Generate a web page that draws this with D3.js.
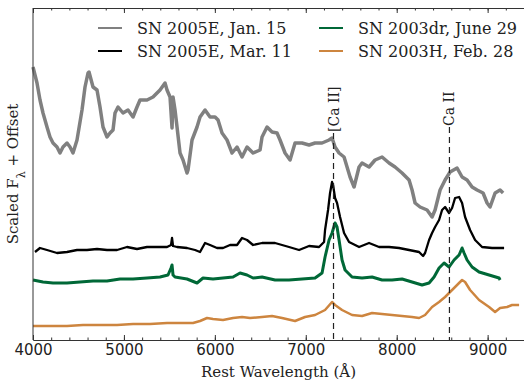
<!DOCTYPE html>
<html>
<head>
<meta charset="utf-8">
<script src="https://cdn.jsdelivr.net/npm/d3@7"></script>
<style>
  body { margin: 0; background: #fff; }
  .axis path, .axis line { stroke: #333; }
  .axis text { font-family: "DejaVu Sans", sans-serif; font-size: 15px; fill: #222; }
  .label, .legend text, .line-id { font-family: "DejaVu Serif", serif; fill: #222; }
</style>
</head>
<body>
<svg class="spectra" width="524" height="381"></svg>
<script>
// [wavelength (A), scaled flux]; offsets added at draw time
const jan15 = [
  [4000, 1.53], [4044, 1.37], [4077, 1.20], [4110, 1.07], [4154, 0.93], [4187, 0.83],
  [4220, 0.77], [4264, 0.73], [4297, 0.67], [4330, 0.73], [4374, 0.77], [4407, 0.73],
  [4440, 0.67], [4484, 0.80], [4539, 1.10], [4572, 1.33], [4605, 1.47], [4616, 1.48],
  [4660, 1.33], [4704, 1.30], [4737, 1.13], [4770, 0.93], [4814, 0.83], [4847, 0.87],
  [4880, 0.90], [4902, 1.07], [4935, 1.13], [4990, 1.07], [5045, 1.10], [5100, 1.03],
  [5144, 1.13], [5177, 1.20], [5254, 1.20], [5320, 1.23], [5397, 1.30], [5452, 1.37],
  [5474, 1.30], [5507, 1.23], [5529, 0.92], [5540, 1.23], [5562, 1.10], [5584, 0.93],
  [5617, 0.67], [5650, 0.60], [5694, 0.47], [5705, 0.50], [5749, 0.80], [5804, 0.93],
  [5837, 1.03], [5892, 1.10], [5947, 1.03], [6002, 1.03], [6035, 1.00], [6079, 0.87],
  [6134, 0.80], [6189, 0.67], [6244, 0.73], [6299, 0.63], [6354, 0.73], [6420, 0.67],
  [6497, 0.70], [6519, 0.83], [6574, 0.93], [6629, 0.88], [6684, 0.87], [6717, 0.80],
  [6772, 0.67], [6827, 0.60], [6882, 0.77], [6959, 0.77], [7036, 0.75], [7102, 0.77],
  [7179, 0.77], [7256, 0.80], [7289, 0.82], [7322, 0.73], [7366, 0.67], [7421, 0.63],
  [7454, 0.53], [7487, 0.43], [7531, 0.33], [7586, 0.53], [7619, 0.57], [7696, 0.53],
  [7762, 0.60], [7839, 0.63], [7916, 0.57], [7982, 0.53], [8059, 0.47], [8136, 0.40],
  [8169, 0.30], [8202, 0.17], [8257, 0.13], [8334, 0.10], [8389, 0.03], [8422, 0.10],
  [8477, 0.30], [8532, 0.40], [8587, 0.48], [8664, 0.52], [8719, 0.43], [8774, 0.40],
  [8829, 0.33], [8884, 0.30], [8950, 0.27], [8994, 0.17], [9027, 0.13], [9082, 0.27],
  [9137, 0.30], [9170, 0.27]
];

const mar11 = [
  [4022, 0.08], [4077, 0.12], [4154, 0.10], [4264, 0.07], [4374, 0.08], [4484, 0.10],
  [4594, 0.10], [4704, 0.11], [4814, 0.10], [4924, 0.10], [5034, 0.13], [5144, 0.11],
  [5254, 0.13], [5364, 0.13], [5474, 0.13], [5518, 0.15], [5529, 0.22], [5540, 0.14],
  [5584, 0.13], [5694, 0.12], [5782, 0.10], [5837, 0.08], [5892, 0.17], [5947, 0.15],
  [6024, 0.12], [6090, 0.12], [6167, 0.15], [6244, 0.15], [6299, 0.22], [6354, 0.20],
  [6420, 0.15], [6519, 0.17], [6662, 0.17], [6816, 0.13], [6926, 0.10], [7036, 0.14],
  [7146, 0.13], [7201, 0.18], [7212, 0.30], [7245, 0.50], [7267, 0.67], [7289, 0.78],
  [7300, 0.75], [7322, 0.62], [7344, 0.57], [7377, 0.43], [7421, 0.27], [7476, 0.18],
  [7586, 0.13], [7696, 0.17], [7806, 0.13], [7916, 0.13], [8026, 0.12], [8136, 0.10],
  [8246, 0.08], [8290, 0.04], [8312, 0.07], [8356, 0.20], [8389, 0.27], [8422, 0.33],
  [8466, 0.40], [8499, 0.50], [8532, 0.53], [8576, 0.47], [8609, 0.52], [8642, 0.62],
  [8686, 0.63], [8719, 0.57], [8752, 0.43], [8807, 0.30], [8862, 0.20], [8939, 0.13],
  [9049, 0.12], [9159, 0.12], [9181, 0.12]
];

const june29 = [
  [4000, 0.15], [4110, 0.13], [4220, 0.12], [4374, 0.12], [4517, 0.13], [4660, 0.14],
  [4814, 0.14], [4957, 0.16], [5100, 0.16], [5254, 0.17], [5397, 0.18], [5485, 0.20],
  [5518, 0.27], [5529, 0.30], [5540, 0.20], [5562, 0.18], [5694, 0.16], [5804, 0.12],
  [5870, 0.17], [5980, 0.16], [6090, 0.17], [6200, 0.18], [6277, 0.22], [6354, 0.20],
  [6420, 0.17], [6519, 0.18], [6662, 0.15], [6816, 0.15], [6959, 0.16], [7102, 0.17],
  [7179, 0.22], [7212, 0.38], [7256, 0.55], [7289, 0.62], [7322, 0.72], [7344, 0.68],
  [7366, 0.55], [7399, 0.35], [7432, 0.25], [7509, 0.18], [7619, 0.17], [7729, 0.18],
  [7839, 0.15], [7949, 0.15], [8059, 0.16], [8169, 0.13], [8279, 0.10], [8356, 0.12],
  [8411, 0.18], [8466, 0.27], [8521, 0.32], [8576, 0.28], [8631, 0.35], [8686, 0.40],
  [8719, 0.47], [8741, 0.42], [8774, 0.35], [8829, 0.28], [8906, 0.23], [9016, 0.20],
  [9126, 0.17], [9137, 0.15]
];

const feb28 = [
  [4000, 0.14], [4187, 0.14], [4374, 0.14], [4550, 0.15], [4737, 0.15], [4924, 0.15],
  [5100, 0.16], [5287, 0.16], [5474, 0.17], [5650, 0.17], [5760, 0.17], [5837, 0.19],
  [5914, 0.22], [5980, 0.21], [6090, 0.20], [6200, 0.22], [6299, 0.23], [6387, 0.22],
  [6519, 0.23], [6629, 0.24], [6739, 0.22], [6882, 0.19], [6992, 0.23], [7102, 0.25],
  [7212, 0.30], [7289, 0.38], [7322, 0.35], [7399, 0.30], [7509, 0.25], [7619, 0.24],
  [7729, 0.27], [7839, 0.26], [7949, 0.25], [8059, 0.24], [8169, 0.23], [8246, 0.22],
  [8312, 0.25], [8389, 0.33], [8466, 0.38], [8532, 0.43], [8609, 0.50], [8686, 0.57],
  [8719, 0.60], [8752, 0.58], [8807, 0.50], [8906, 0.40], [9016, 0.33], [9082, 0.28],
  [9137, 0.32], [9214, 0.33], [9269, 0.35], [9346, 0.35]
];

const labels = ['SN 2005E, Jan. 15', 'SN 2005E, Mar. 11', 'SN 2003dr, June 29', 'SN 2003H, Feb. 28'];
const colors = ['#808080', '#000000', '#006837', '#cd853f'];
const offsets = [1.2, 0.8, 0.45, 0.0];
const widths = [3.5, 2.3, 3, 2.5];
const lineIds = [{ name: '[Ca II]', wave: 7305 }, { name: 'Ca II', wave: 8580 }];
const xTicks = [4000, 5000, 6000, 7000, 8000, 9000];

const spectra = [jan15, mar11, june29, feb28];

const svg = d3.select('.spectra');
const margin = { top: 8, right: 0, bottom: 41, left: 33 };
const width = 524 - margin.left - margin.right;
const height = 381 - margin.top - margin.bottom;
const chart = svg.append('g').attr('transform', `translate(${margin.left}, ${margin.top})`);

const xScale = d3.scaleLinear().domain([4000, 9400]).range([0, width]);
const yScale = d3.scaleLinear().domain([0, 3.32]).range([height, 0]);

// spectra
spectra.forEach((spec, i) => {
  const line = d3.line()
    .x(d => xScale(d[0]))
    .y(d => yScale(d[1] + offsets[i]));
  chart.append('path')
    .datum(spec)
    .attr('fill', 'none')
    .attr('stroke', colors[i])
    .attr('stroke-width', widths[i])
    .attr('stroke-linejoin', 'round')
    .attr('d', line);
});

// line identifications
const ids = chart.selectAll('.line-id-g').data(lineIds).enter().append('g');
ids.append('line')
  .attr('x1', d => xScale(d.wave)).attr('x2', d => xScale(d.wave))
  .attr('y1', (d, i) => i === 0 ? 125 : 119).attr('y2', height)
  .attr('stroke', '#222').attr('stroke-width', 1.2).attr('stroke-dasharray', '6,4');
ids.append('text')
  .attr('class', 'line-id')
  .attr('transform', (d, i) => `translate(${xScale(d.wave) + 5}, ${i === 0 ? 124 : 118}) rotate(-90)`)
  .style('font-size', '14px')
  .text(d => d.name);

// axes
const xAxis = d3.axisBottom(xScale).tickValues(xTicks).tickFormat(d3.format('d'))
  .tickSizeInner(-5).tickSizeOuter(0).tickPadding(4);
const xMinor = d3.axisBottom(xScale).ticks(27).tickFormat('').tickSizeInner(-2.5).tickSizeOuter(0);
const topAxis = d3.axisTop(xScale).tickValues(xTicks).tickFormat('').tickSizeInner(-5).tickSizeOuter(0);
const topMinor = d3.axisTop(xScale).ticks(27).tickFormat('').tickSizeInner(-2.5).tickSizeOuter(0);

chart.append('g').attr('class', 'axis').attr('transform', `translate(0, ${height})`).call(xMinor);
chart.append('g').attr('class', 'axis axis-x').attr('transform', `translate(0, ${height})`).call(xAxis);
chart.append('g').attr('class', 'axis').call(topMinor);
chart.append('g').attr('class', 'axis').call(topAxis);
chart.append('line').attr('x1', 0).attr('x2', 0).attr('y1', 0).attr('y2', height)
  .attr('stroke', '#333');

chart.append('text').attr('class', 'label')
  .attr('x', width / 2).attr('y', height + 37)
  .attr('text-anchor', 'middle').style('font-size', '15px')
  .text('Rest Wavelength (Å)');

const yLabel = chart.append('text').attr('class', 'label')
  .attr('transform', `translate(-15, ${height / 2}) rotate(-90)`)
  .attr('text-anchor', 'middle').style('font-size', '15px');
yLabel.append('tspan').text('Scaled F');
yLabel.append('tspan').attr('baseline-shift', 'sub').style('font-size', '11px').text('λ');
yLabel.append('tspan').text(' + Offset');

// legend, two columns
const legend = svg.append('g').attr('class', 'legend');
labels.forEach((label, i) => {
  const col = Math.floor(i / 2);
  const row = i % 2;
  const lx = col === 0 ? 98 : 319;
  const ly = row === 0 ? 28 : 51;
  legend.append('line')
    .attr('x1', lx).attr('x2', lx + 24).attr('y1', ly).attr('y2', ly)
    .attr('stroke', colors[i]).attr('stroke-width', 2);
  legend.append('text')
    .attr('x', lx + 39).attr('y', ly + 6)
    .style('font-size', '16px')
    .text(label);
});
</script>
</body>
</html>
